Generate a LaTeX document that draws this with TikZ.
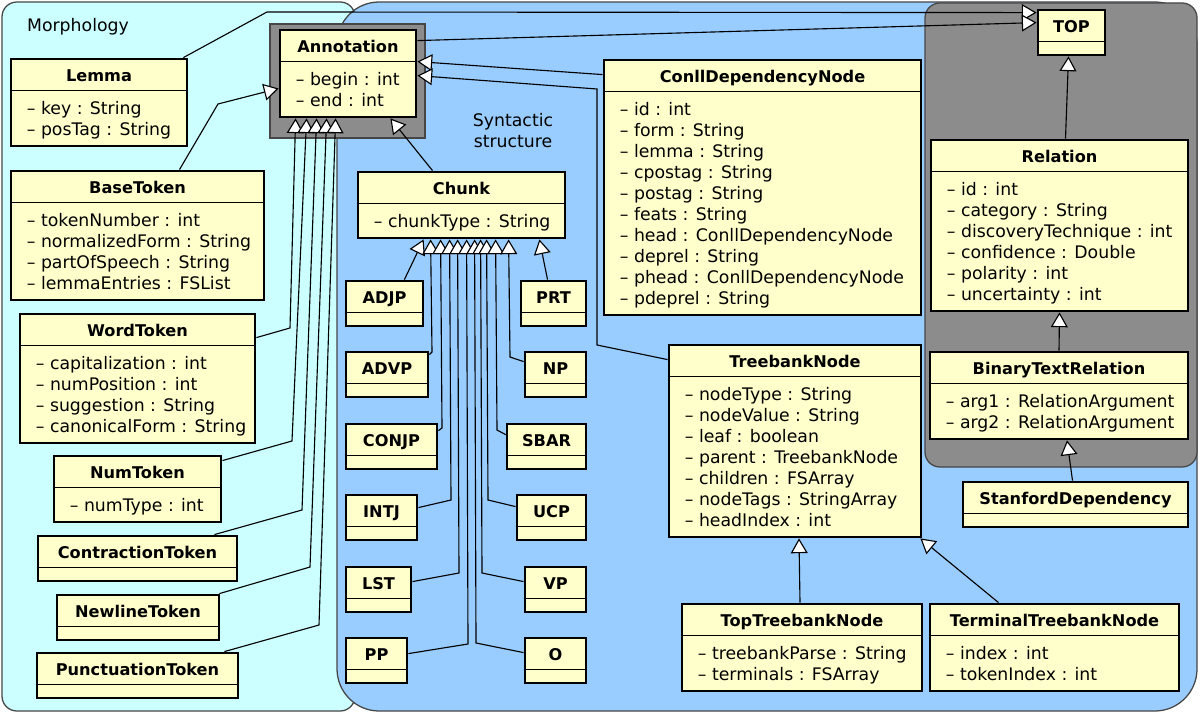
\documentclass[tikz,border=0pt]{standalone}
\usepackage{fontspec}
\setmainfont{DejaVu Sans}
\usetikzlibrary{arrows.meta, positioning, fit, calc}

\definecolor{morphfill}{RGB}{204,255,255}
\definecolor{syntfill}{RGB}{153,204,255}
\definecolor{relfill}{RGB}{140,140,140}
\definecolor{classfill}{RGB}{255,255,204}
\definecolor{regionline}{RGB}{70,70,70}

% class box: name, left, top, width, title, attributes
\newcommand{\umlclass}[6]{%
  \foreach \a [count=\i] in {#6} {\xdef\nattr{\i}}
  \node[classbox, fit={(#2,#3) ({#2+#4},{#3+45+21*\nattr})}] (#1) {};
  \node[classtitle] at ($(#1.north)+(0,24)$) {#5};
  \draw[classsep] ($(#1.north west)+(0,33)$) -- ($(#1.north east)+(0,33)$);
  \foreach \a [count=\i] in {#6}
    \node[classattr] at ($(#1.north west)+(17,{57+21*(\i-1)})$) {\a};
}
% class box without attributes: name, left, top, width, title
\newcommand{\umlempty}[5]{%
  \node[classbox, fit={(#2,#3) ({#2+#4},{#3+45})}] (#1) {};
  \node[classtitle] at ($(#1.north)+(0,24)$) {#5};
  \draw[classsep] ($(#1.north west)+(0,33)$) -- ($(#1.north east)+(0,33)$);
}

\begin{document}
\begin{tikzpicture}[
    x=0.025cm, y=-0.025cm,
    region/.style={draw=regionline, line width=0.9pt},
    regionlabel/.style={font=\fontsize{12.3}{14.9}\selectfont, inner sep=0pt},
    classbox/.style={rectangle, draw=black, line width=2pt, fill=classfill, inner sep=0pt},
    classtitle/.style={anchor=base, font=\fontsize{11.5}{14}\selectfont\bfseries, inner sep=0pt},
    classattr/.style={anchor=base west, font=\fontsize{12.3}{14.9}\selectfont, inner sep=0pt},
    classsep/.style={line width=1pt},
    inherit/.style={line width=0.8pt, -{Triangle[length=10.5pt, width=12pt, fill=white]}},
]
    \useasboundingbox (0,0) rectangle (1200,714);
    \fill[white] (0,0) rectangle (1200,714);

    % package regions
    \filldraw[region, fill=morphfill, rounded corners=10.6pt] (2,2) rectangle (355,711);
    \filldraw[region, fill=syntfill, rounded corners=30pt] (337,2) rectangle (1197,711);
    \filldraw[region, fill=relfill, rounded corners=10.6pt] (925,3) rectangle (1197,467);
    \filldraw[region, fill=relfill] (270,24) rectangle (425,138);

    \node[regionlabel] (morph_label) at (78,27) {Morphology};
    \node[regionlabel, align=center] (synt_label) at (513,131) {Syntactic\\structure};

    % annotation and morphology
    \umlclass{annotation}{280}{30}{136}{Annotation}{– begin : int, – end : int}
    \umlclass{lemma}{11}{59}{176}{Lemma}{– key : String, – posTag : String}
    \umlclass{base_token}{11}{171}{253}{BaseToken}{– tokenNumber : int, – normalizedForm : String, – partOfSpeech : String, – lemmaEntries : FSList}
    \umlclass{word_token}{20}{314}{235}{WordToken}{– capitalization : int, – numPosition : int, – suggestion : String, – canonicalForm : String}
    \umlclass{num_token}{54}{456}{167}{NumToken}{– numType : int}
    \umlempty{contraction_token}{38}{536}{199}{ContractionToken}
    \umlempty{newline_token}{57}{595}{162}{NewlineToken}
    \umlempty{punct_token}{37}{653}{201}{PunctuationToken}

    % chunks
    \umlclass{chunk}{358}{172}{207}{Chunk}{– chunkType : String}
    \umlempty{adjp}{346}{281}{77}{ADJP}
    \umlempty{prt}{521}{281}{65}{PRT}
    \umlempty{advp}{346}{352}{82}{ADVP}
    \umlempty{np}{525}{352}{61}{NP}
    \umlempty{conjp}{346}{424}{91}{CONJP}
    \umlempty{sbar}{507}{424}{79}{SBAR}
    \umlempty{intj}{346}{495}{71}{INTJ}
    \umlempty{ucp}{517}{495}{69}{UCP}
    \umlempty{lst}{346}{567}{65}{LST}
    \umlempty{vp}{525}{567}{61}{VP}
    \umlempty{pp}{346}{638}{61}{PP}
    \umlempty{o_chunk}{525}{638}{61}{O}

    % dependency and treebank nodes
    \umlclass{conll_node}{604}{60}{317}{ConllDependencyNode}{– id : int, – form : String, – lemma : String, – cpostag : String, – postag : String, – feats : String, – head : ConllDependencyNode, – deprel : String, – phead : ConllDependencyNode, – pdeprel : String}
    \umlclass{treebank_node}{669}{345}{252}{TreebankNode}{– nodeType : String, – nodeValue : String, – leaf : boolean, – parent : TreebankNode, – children : FSArray, – nodeTags : StringArray, – headIndex : int}
    \umlclass{top_treebank}{682}{604}{240}{TopTreebankNode}{– treebankParse : String, – terminals : FSArray}
    \umlclass{terminal_treebank}{930}{604}{249}{TerminalTreebankNode}{– index : int, – tokenIndex : int}

    % relations
    \umlempty{top_type}{1038}{10}{67}{TOP}
    \umlclass{relation}{931}{140}{257}{Relation}{– id : int, – category : String, – discoveryTechnique : int, – confidence : Double, – polarity : int, – uncertainty : int}
    \umlclass{binary_relation}{930}{352}{258}{BinaryTextRelation}{– arg1 : RelationArgument, – arg2 : RelationArgument}
    \umlempty{stanford_dep}{963}{482}{225}{StanfordDependency}

    % generalizations to TOP
    \draw[inherit] ($(lemma.north east)+(-5,0)$) -- (267,12) -- ($(top_type.north west)+(0,4)$);
    \draw[inherit] ($(annotation.north east)+(0,12)$) -- ($(top_type.north west)+(0,14)$);
    \draw[inherit] ($(relation.north)+(6,0)$) -- ($(top_type.south)+(-3,0)$);
    \draw[inherit] (binary_relation.north) -- (relation.south);
    \draw[inherit] ($(stanford_dep.north)+(-3,0)$) -- ($(binary_relation.south)+(8,0)$);

    % tokens to annotation
    \draw[inherit] ($(base_token.north)+(42,0)$) -- (218,104) -- ($(annotation.west)+(0,15)$);
    \draw[inherit] ($(word_token.north east)+(0,25)$) -- (290,328) -- ($(annotation.south west)+(17,0)$);
    \draw[inherit] ($(num_token.north east)+(0,6)$) -- (292,441) -- ($(annotation.south west)+(28,0)$);
    \draw[inherit] ($(contraction_token.north east)+(-24,0)$) -- (302,510) -- ($(annotation.south west)+(38,0)$);
    \draw[inherit] ($(newline_token.north east)+(-1,0)$) -- (310,567) -- ($(annotation.south west)+(48,0)$);
    \draw[inherit] ($(punct_token.north east)+(-15,0)$) -- (319,625) -- ($(annotation.south west)+(57,0)$);

    % syntactic structure to annotation
    \draw[inherit] ($(chunk.north)+(-29,0)$) -- ($(annotation.south east)+(-27,0)$);
    \draw[inherit] ($(conll_node.north west)+(0,16)$) -- ($(annotation.north east)+(0,33)$);
    \draw[inherit] ($(treebank_node.north west)+(0,16)$) -- (597,345) -- (597,89) -- ($(annotation.north east)+(0,47)$);

    % chunk types
    \draw[inherit] ($(adjp.north east)+(-20,0)$) -- ($(chunk.south west)+(67,0)$);
    \draw[inherit] ($(prt.north)+(-6,0)$) -- ($(chunk.south east)+(-27,0)$);
    \draw[inherit] ($(advp.north east)+(0,4)$) -- (432,352) -- ($(chunk.south west)+(74,0)$);
    \draw[inherit] ($(conjp.north east)+(0,8)$) -- (442,428) -- ($(chunk.south west)+(84,0)$);
    \draw[inherit] ($(intj.north east)+(0,14)$) -- (451,500) -- ($(chunk.south west)+(93,0)$);
    \draw[inherit] ($(lst.north east)+(0,16)$) -- (459,573) -- ($(chunk.south west)+(101,0)$);
    \draw[inherit] ($(pp.north east)+(0,17)$) -- (468,644) -- ($(chunk.south west)+(110,0)$);
    \draw[inherit] ($(o_chunk.north west)+(0,16)$) -- (476,643) -- ($(chunk.south west)+(118,0)$);
    \draw[inherit] ($(vp.north west)+(0,16)$) -- (482,573) -- ($(chunk.south west)+(124,0)$);
    \draw[inherit] ($(ucp.north west)+(0,13)$) -- (488,500) -- ($(chunk.south west)+(130,0)$);
    \draw[inherit] ($(sbar.north west)+(0,12)$) -- (497,430) -- ($(chunk.south west)+(139,0)$);
    \draw[inherit] ($(np.north west)+(0,11)$) -- (510,357) -- ($(chunk.south west)+(152,0)$);

    % treebank nodes
    \draw[inherit] ($(top_treebank.north)+(-2,0)$) -- ($(treebank_node.south)+(4,0)$);
    \draw[inherit] ($(terminal_treebank.north)+(-56,0)$) -- ($(treebank_node.south east)+(-2,0)$);

\end{tikzpicture}
\end{document}
